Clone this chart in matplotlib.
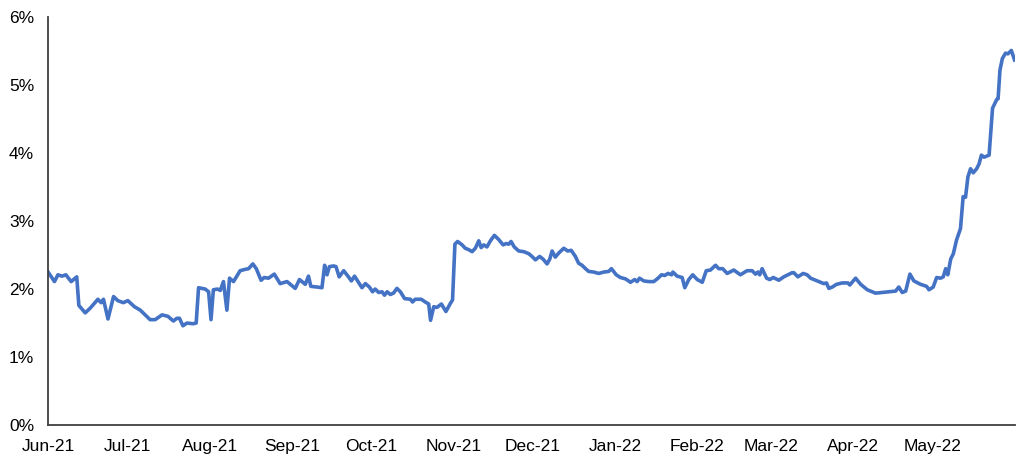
import pandas as pd
import matplotlib
matplotlib.use("Agg")
import matplotlib.pyplot as plt
import matplotlib.dates as mdates
from matplotlib.ticker import PercentFormatter, MultipleLocator

plt.rcParams['font.family'] = ['Liberation Sans', 'DejaVu Sans']

# days since 1 Jun 2021
day_offset = [
    0.0, 2.4, 3.7, 5.2, 6.7, 8.7, 10.8, 11.6, 14.0, 15.9, 18.8, 20.0, 20.9, 22.6,
    24.7, 26.3, 28.4, 30.1, 32.6, 34.8, 38.5, 40.4, 43.0, 45.2, 47.3, 48.6, 49.6,
    50.9, 52.4, 54.7, 55.9, 56.8, 59.3, 60.6, 61.5, 62.4, 64.0, 65.0, 66.2, 67.5,
    68.5, 70.0, 72.5, 74.4, 75.7, 77.3, 78.6, 80.4, 81.6, 83.2, 85.4, 87.6, 90.2,
    93.3, 94.9, 97.1, 98.3, 99.2, 101.5, 103.4, 104.4, 105.3, 106.2, 107.8, 108.7,
    109.9, 111.6, 113.4, 114.5, 115.7, 117.0, 118.5, 119.8, 121.3, 122.5, 123.5,
    124.8, 126.1, 127.0, 128.0, 129.2, 130.4, 131.7, 133.0, 134.6, 136.8, 137.6,
    138.6, 140.9, 142.4, 143.7, 144.4, 145.6, 146.8, 148.5, 150.2, 151.9, 152.7,
    153.6, 154.6, 156.3, 157.5, 158.8, 160.1, 161.3, 162.6, 163.5, 164.5, 165.7,
    167.0, 168.5, 170.1, 171.8, 173.0, 173.9, 174.8, 176.0, 177.7, 179.6, 181.5,
    182.7, 184.0, 185.6, 186.9, 188.4, 189.4, 190.3, 191.5, 192.8, 194.7, 196.2,
    197.5, 199.1, 200.3, 201.6, 202.9, 204.1, 206.0, 207.9, 209.8, 211.7, 212.7,
    214.5, 216.1, 218.0, 219.9, 221.5, 222.4, 223.3, 224.9, 226.8, 228.7, 230.3,
    231.6, 232.8, 234.1, 235.4, 235.9, 237.5, 239.4, 240.4, 241.9, 243.4, 245.1,
    247.0, 248.5, 250.1, 252.0, 253.2, 254.7, 256.4, 258.9, 261.4, 263.9, 265.8,
    267.1, 268.0, 268.7, 269.6, 271.3, 272.5, 273.8, 275.9, 277.8, 280.9, 281.6,
    283.1, 285.1, 286.6, 287.9, 290.4, 292.9, 293.9, 294.8, 296.1, 297.7, 299.8,
    302.0, 302.7, 304.9, 306.8, 309.3, 312.4, 314.9, 317.4, 320.0, 321.2, 322.5,
    323.8, 325.4, 326.9, 329.4, 331.7, 332.6, 334.2, 335.5, 337.0, 338.0, 338.9,
    339.7, 340.8, 341.8, 343.0, 344.5, 345.5, 346.4, 347.3, 348.3, 349.3, 350.6,
    351.5, 352.4, 353.4, 355.3, 356.6, 358.2, 358.7, 359.4, 360.3, 361.5, 362.4,
    363.7, 364.9,
]

# yield, in percent
yield_pct = [
    2.25, 2.11, 2.21, 2.19, 2.21, 2.11, 2.18, 1.76, 1.65, 1.72, 1.85, 1.80, 1.85, 1.56,
    1.89, 1.83, 1.80, 1.83, 1.74, 1.69, 1.55, 1.55, 1.62, 1.60, 1.53, 1.57, 1.57,
    1.46, 1.50, 1.49, 1.50, 2.02, 2.00, 1.96, 1.55, 1.99, 2.00, 1.98, 2.11, 1.69,
    2.16, 2.11, 2.27, 2.29, 2.30, 2.37, 2.30, 2.13, 2.17, 2.16, 2.22, 2.08, 2.11,
    2.01, 2.14, 2.07, 2.19, 2.04, 2.03, 2.02, 2.35, 2.21, 2.33, 2.34, 2.33,
    2.18, 2.27, 2.18, 2.12, 2.19, 2.11, 2.02, 2.08, 2.03, 1.96, 2.00,
    1.95, 1.96, 1.91, 1.96, 1.92, 1.94, 2.01, 1.96, 1.86, 1.85, 1.81,
    1.85, 1.85, 1.81, 1.78, 1.54, 1.74, 1.73, 1.78, 1.67, 1.79, 1.84,
    2.66, 2.70, 2.65, 2.60, 2.58, 2.55, 2.60, 2.71, 2.61, 2.65, 2.62,
    2.71, 2.79, 2.73, 2.65, 2.67, 2.66, 2.70, 2.62, 2.56, 2.55, 2.52,
    2.48, 2.43, 2.48, 2.44, 2.37, 2.44, 2.56, 2.47, 2.53, 2.60, 2.56,
    2.57, 2.48, 2.38, 2.35, 2.30, 2.26, 2.25, 2.23, 2.25, 2.26, 2.30,
    2.21, 2.17, 2.15, 2.10, 2.14, 2.11, 2.16, 2.12, 2.11, 2.11, 2.16,
    2.21, 2.20, 2.23, 2.21, 2.25, 2.19, 2.17, 2.02, 2.14, 2.21, 2.14,
    2.10, 2.27, 2.28, 2.35, 2.30, 2.30, 2.23, 2.28, 2.21, 2.27, 2.27,
    2.22, 2.25, 2.21, 2.30, 2.16, 2.14, 2.17, 2.13, 2.18, 2.24, 2.24,
    2.18, 2.23, 2.21, 2.16, 2.12, 2.08, 2.09, 2.01, 2.03, 2.07, 2.09,
    2.09, 2.06, 2.16, 2.07, 1.99, 1.94, 1.95, 1.96, 1.97, 2.03, 1.95,
    1.97, 2.22, 2.12, 2.07, 2.04, 1.99, 2.03, 2.17, 2.16, 2.18, 2.30,
    2.21, 2.44, 2.52, 2.72, 2.89, 3.36, 3.35, 3.65, 3.77, 3.71, 3.77,
    3.84, 3.97, 3.94, 3.97, 4.66, 4.79, 4.80, 5.22, 5.39, 5.47, 5.46,
    5.51, 5.37,
]

start = pd.Timestamp('2021-06-01')
dates = start + pd.to_timedelta(day_offset, unit='D')

fig = plt.figure(figsize=(10.24, 4.63), dpi=100)
ax = fig.add_axes([0.047, 0.082, 0.944, 0.881])

ax.plot(dates, yield_pct, color='#4472C4', lw=2.6, solid_joinstyle='round')

ax.set_ylim(0, 6)
ax.set_xlim(start, pd.Timestamp('2022-06-01'))
ax.yaxis.set_major_locator(MultipleLocator(1))
ax.yaxis.set_major_formatter(PercentFormatter(xmax=100, decimals=0))
ax.xaxis.set_major_locator(mdates.MonthLocator())
ax.xaxis.set_major_formatter(mdates.DateFormatter('%b-%y'))

for side in ['top', 'right']:
    ax.spines[side].set_visible(False)
for side in ['left', 'bottom']:
    ax.spines[side].set_color('#404040')
    ax.spines[side].set_linewidth(1.3)

ax.tick_params(axis='both', length=0, labelsize=12.5, colors='#000000')
ax.tick_params(axis='x', pad=10)
ax.tick_params(axis='y', pad=10)

# last month tick (Jun-22) is not labelled in the original
ticks = ax.get_xticks()
ax.set_xticks(ticks[:-1])

fig.savefig('out.png', dpi=100)
